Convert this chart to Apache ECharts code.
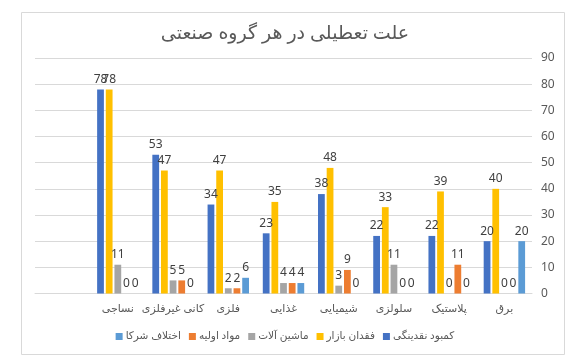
<!DOCTYPE html>
<html>
<head>
<meta charset="utf-8">
<script src="https://cdn.jsdelivr.net/npm/echarts@6/dist/echarts.min.js"></script>
<style>
html,body{margin:0;padding:0;background:#fff;}
#chart{width:570px;height:359px;}
</style>
</head>
<body>
<div id="chart"></div>
<script>
const titleText = 'علت تعطیلی در هر گروه صنعتی';
const categories = ['', 'نساجی', 'کانی غیرفلزی', 'فلزی', 'غذایی', 'شیمیایی', 'سلولزی', 'پلاستیک', 'برق'];
const seriesNames = ['کمبود نقدینگی', 'فقدان بازار', 'ماشین آلات', 'مواد اولیه', 'اختلاف شرکا'];
const liquidity = [null, 78, 53, 34, 23, 38, 22, 22, 20];
const market    = [null, 78, 47, 47, 35, 48, 33, 39, 40];
const machinery = [null, 11, 5, 2, 4, 3, 11, 0, 0];
const materials = [null, 0, 5, 2, 4, 9, 0, 11, 0];
const partners  = [null, 0, 0, 6, 4, 0, 0, 0, 20];
const yTicks = [0, 10, 20, 30, 40, 50, 60, 70, 80, 90];
const colors = ['#4472C4', '#FFC000', '#A5A5A5', '#ED7D31', '#5B9BD5'];

const values = [liquidity, market, machinery, materials, partners];
const chart = echarts.init(document.getElementById('chart'));
const font = "'Noto Sans', 'DejaVu Sans', sans-serif";
chart.setOption({
  animation: false,
  textStyle: { fontFamily: font },
  graphic: [{
    type: 'rect', shape: { x: 21.5, y: 12.5, width: 543, height: 342 },
    style: { fill: 'none', stroke: '#d9d9d9', lineWidth: 1 }, silent: true
  }],
  title: {
    text: titleText, left: 'center', top: 19,
    textStyle: { fontSize: 19, fontWeight: 'normal', color: '#595959', fontFamily: font }
  },
  legend: {
    data: seriesNames.slice().reverse(),
    left: 'center', top: 326,
    itemWidth: 7, itemHeight: 7, itemGap: 8,
    icon: 'rect',
    textStyle: { fontSize: 10.5, color: '#595959', fontFamily: font, padding: [0, 0, 0, -2] }
  },
  grid: { left: 35, right: 38, top: 58, bottom: 65.5, containLabel: false },
  xAxis: {
    type: 'category', data: categories,
    axisLine: { lineStyle: { color: '#d9d9d9' } },
    axisTick: { show: false },
    axisLabel: { fontSize: 11, color: '#595959', margin: 10, interval: 0 }
  },
  yAxis: {
    type: 'value', position: 'right', min: yTicks[0], max: yTicks[yTicks.length - 1], interval: 10,
    axisLine: { show: false }, axisTick: { show: false },
    axisLabel: { fontSize: 12, color: '#595959', margin: 9 },
    splitLine: { lineStyle: { color: '#d9d9d9' } }
  },
  series: seriesNames.map((name, i) => ({
    name, type: 'bar', data: values[i],
    itemStyle: { color: colors[i] },
    barGap: '28%', barCategoryGap: '25%',
    label: { show: true, position: 'top', distance: 4, fontSize: 12, color: '#404040', fontFamily: font }
  }))
});
</script>
</body>
</html>
